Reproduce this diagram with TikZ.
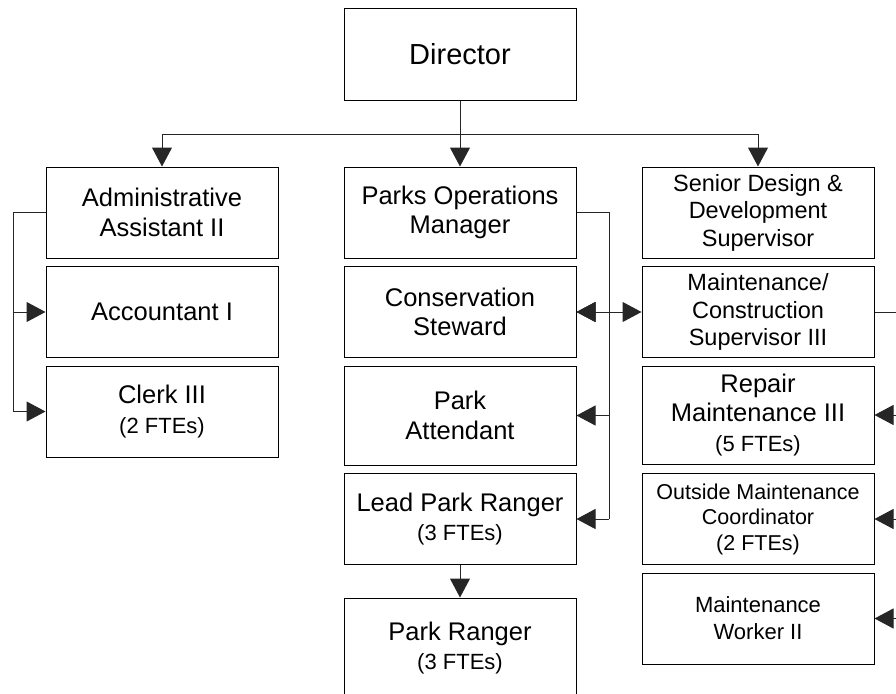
\documentclass[tikz,border=0pt]{standalone}
\usepackage{fontspec}
\setmainfont{Liberation Sans}
\usetikzlibrary{arrows.meta}

\newcommand{\ftes}[1]{{\fontsize{22}{26}\selectfont (#1 FTEs)}}

\begin{document}
\begin{tikzpicture}[x=1pt, y=-1pt,
		box/.style={draw, line width=1pt, minimum width=232pt, minimum height=91pt, inner sep=2pt, align=center, font=\fontsize{25.5}{29.5}\selectfont},
		link/.style={line width=1pt, draw=black!85},
		tipped/.style={link, arrows={-Triangle[length=19pt, width=20pt]}}]
		\useasboundingbox (0, 0) rectangle (896, 693);
		\clip (0, 0) rectangle (896, 693);

		% top
		\node[box, font=\fontsize{29}{33}\selectfont] (dir) at (460, 54.5) {Director};

		% left column
		\node[box] (adm) at (162, 212.5) {Administrative\\Assistant II};
		\node[box] (acc) at (162, 312) {Accountant I};
		\node[box] (clk) at (162, 411.5) {Clerk III\\\ftes{2}};

		% middle column
		\node[box] (pom) at (460, 212.5) {Parks Operations\\Manager};
		\node[box] (con) at (460, 312) {Conservation\\Steward};
		\node[box, minimum height=99pt] (att) at (460, 415.5) {Park\\Attendant};
		\node[box] (lpr) at (460, 519) {Lead Park Ranger\\\ftes{3}};
		\node[box, minimum height=100pt] (prg) at (460, 648) {Park Ranger\\\ftes{3}};

		% right column
		\node[box, font=\fontsize{23.5}{27.5}\selectfont] (sdd) at (758, 212.5) {Senior Design \&\\Development\\Supervisor};
		\node[box, font=\fontsize{23.5}{27.5}\selectfont] (mcs) at (758, 312) {Maintenance/\\Construction\\Supervisor III};
		\node[box, minimum height=98pt] (rep) at (758, 415) {Repair\\Maintenance III\\\ftes{5}};
		\node[box, font=\fontsize{21.5}{25.5}\selectfont] (omc) at (758, 519) {Outside Maintenance\\Coordinator\\(2 FTEs)};
		\node[box, font=\fontsize{22}{27}\selectfont] (mwk) at (758, 618.5) {Maintenance\\Worker II};

		\coordinate (bus) at (460, 134);
		\coordinate (lrail) at (13, 0);
		\coordinate (mrail) at (609, 0);
		\coordinate (rrail) at (905, 0);

		% director to the three heads
		\draw[link] (dir.south) -- (bus);
		\draw[link] (adm.north |- bus) -- (sdd.north |- bus);
		\foreach \head in {adm, pom, sdd}
			\draw[tipped] (\head.north |- bus) -- (\head.north);

		% left rail
		\draw[link] (adm.west) -- (adm.west -| lrail) -- (lrail |- clk.west);
		\foreach \staff in {acc, clk}
			\draw[tipped] (lrail |- \staff.west) -- (\staff.west);

		% middle rail
		\draw[link] (pom.east) -- (pom.east -| mrail) -- (mrail |- lpr.east);
		\foreach \staff in {con, att, lpr}
			\draw[tipped] (mrail |- \staff.east) -- (\staff.east);
		\draw[tipped] (lpr.south) -- (prg.north);

		% right rail
		\draw[link] (mcs.east) -- (mcs.east -| rrail) -- (rrail |- mwk.east);
		\foreach \staff in {rep, omc, mwk}
			\draw[tipped] (rrail |- \staff.east) -- (\staff.east);

		\draw[link, arrows={Triangle[length=19pt, width=20pt]-Triangle[length=19pt, width=20pt]}] (con.east) -- (mcs.west);

	\end{tikzpicture}
\end{document}
